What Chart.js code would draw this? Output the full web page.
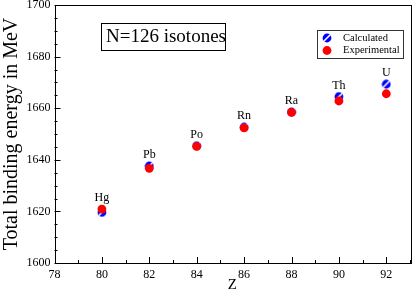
<!DOCTYPE html>
<html>
<head>
<meta charset="utf-8">
<script src="https://cdn.jsdelivr.net/npm/chart.js@4.4.1/dist/chart.umd.min.js"></script>
<style>
    html, body { margin: 0; padding: 0; background: #fff; }
    #wrap { width: 415px; height: 291px; }
</style>
</head>
<body>
<div id="wrap"><canvas id="chart"></canvas></div>
<script>
// data
const elements = ['Hg', 'Pb', 'Po', 'Rn', 'Ra', 'Th', 'U'];
const protonNumbers = [80, 82, 84, 86, 88, 90, 92];
const calculated = [1619.6, 1637.6, 1645.4, 1652.6, 1658.5, 1664.5, 1669.3];
const experimental = [1620.9, 1636.7, 1645.2, 1652.4, 1658.4, 1662.8, 1665.6];
const xTicks = [78, 80, 82, 84, 86, 88, 90, 92];
const yTicks = [1600, 1620, 1640, 1660, 1680, 1700];

const SERIF = '"Liberation Serif", "DejaVu Serif", serif';

// blue circle with a white diagonal stripe (hatched marker)
function makeHatchedDot() {
    const c = document.createElement('canvas');
    c.width = 10;
    c.height = 10;
    const g = c.getContext('2d');
    g.fillStyle = '#0000ff';
    g.beginPath();
    g.arc(5, 5, 4.4, 0, Math.PI * 2);
    g.fill();
    g.save();
    g.clip();
    g.strokeStyle = '#ffffff';
    g.lineWidth = 1.6;
    g.beginPath();
    g.moveTo(1.5, 8.5);
    g.lineTo(8.5, 1.5);
    g.stroke();
    g.restore();
    return c;
}
const hatchedDot = makeHatchedDot();

// frame, inward ticks, element labels, text box and legend
const decorPlugin = {
    id: 'decor',
    afterDatasetsDraw(chart) {
        const { ctx, chartArea: a, scales } = chart;
        const xs = scales.x, ys = scales.y;
        ctx.save();
        ctx.strokeStyle = '#000';
        ctx.lineWidth = 1;
        ctx.strokeRect(Math.round(a.left) + 0.5, Math.round(a.top) + 0.5,
            Math.round(a.right - a.left), Math.round(a.bottom - a.top));

        // x ticks (major every 2, minor every 1)
        ctx.beginPath();
        for (let v = xs.min; v <= xs.max; v += 1) {
            const px = Math.round(xs.getPixelForValue(v)) + 0.5;
            const len = (v % 2 === 0) ? 6 : 3;
            ctx.moveTo(px, a.bottom);
            ctx.lineTo(px, a.bottom - len);
        }
        // y ticks (major every 20, minor every 5)
        for (let v = ys.min; v <= ys.max; v += 5) {
            const py = Math.round(ys.getPixelForValue(v)) + 0.5;
            const len = (v % 20 === 0) ? 6 : 3;
            ctx.moveTo(a.left, py);
            ctx.lineTo(a.left + len, py);
        }
        ctx.stroke();

        // element symbols above each pair of points
        ctx.fillStyle = '#000';
        ctx.font = '12px ' + SERIF;
        ctx.textAlign = 'center';
        ctx.textBaseline = 'alphabetic';
        elements.forEach((el, i) => {
            const px = xs.getPixelForValue(protonNumbers[i]);
            const top = ys.getPixelForValue(Math.max(calculated[i], experimental[i]));
            ctx.fillText(el, px, top - 8);
        });

        // "N=126 isotones" box
        ctx.strokeRect(101.5, 23.5, 124, 27);
        ctx.font = '19px ' + SERIF;
        ctx.textAlign = 'left';
        ctx.textBaseline = 'middle';
        ctx.fillText('N=126 isotones', 106, 37.5);

        // legend
        ctx.strokeStyle = '#333';
        ctx.strokeRect(317.5, 30.5, 86, 28);
        ctx.drawImage(hatchedDot, 322, 33);
        ctx.fillStyle = '#ff0000';
        ctx.beginPath();
        ctx.arc(327, 50.5, 4.4, 0, Math.PI * 2);
        ctx.fill();
        ctx.fillStyle = '#000';
        ctx.font = '10.5px ' + SERIF;
        ctx.fillText('Calculated', 343, 38.5);
        ctx.fillText('Experimental', 343, 50.5);
        ctx.restore();
    }
};

new Chart(document.getElementById('chart'), {
    type: 'scatter',
    data: {
        datasets: [
            {
                label: 'Calculated',
                data: protonNumbers.map((z, i) => ({ x: z, y: calculated[i] })),
                pointStyle: hatchedDot,
                order: 1
            },
            {
                label: 'Experimental',
                data: protonNumbers.map((z, i) => ({ x: z, y: experimental[i] })),
                pointStyle: 'circle',
                pointRadius: 4.4,
                backgroundColor: '#ff0000',
                borderWidth: 0,
                order: 0
            }
        ]
    },
    options: {
        responsive: true,
        maintainAspectRatio: false,
        animation: false,
        layout: { padding: { top: 5, right: 2, left: 0, bottom: 0 } },
        plugins: {
            legend: { display: false },
            tooltip: { enabled: false }
        },
        scales: {
            x: {
                type: 'linear',
                min: 78,
                max: 93,
                afterBuildTicks: scale => { scale.ticks = xTicks.map(v => ({ value: v })); },
                afterFit: scale => {
                    scale.height = 28;
                    scale.paddingLeft = 0;
                    scale.paddingRight = 0;
                },
                grid: { display: false, drawTicks: false },
                border: { display: false },
                ticks: {
                    padding: 5,
                    color: '#000',
                    font: { family: SERIF, size: 12 },
                    callback: v => String(v)
                },
                title: {
                    display: true,
                    text: 'Z',
                    color: '#000',
                    padding: { top: -2, bottom: -2 },
                    font: { family: SERIF, size: 15, lineHeight: 1.0 }
                }
            },
            y: {
                min: 1600,
                max: 1700,
                afterBuildTicks: scale => { scale.ticks = yTicks.map(v => ({ value: v })); },
                afterFit: scale => {
                    scale.width = 54.5;
                    scale.paddingTop = 0;
                    scale.paddingBottom = 0;
                },
                grid: { display: false, drawTicks: false },
                border: { display: false },
                ticks: {
                    padding: 4,
                    color: '#000',
                    font: { family: SERIF, size: 12 },
                    callback: v => String(v)
                },
                title: {
                    display: true,
                    text: 'Total binding energy in MeV',
                    color: '#000',
                    padding: 0,
                    font: { family: SERIF, size: 20 }
                }
            }
        }
    },
    plugins: [decorPlugin]
});
</script>
</body>
</html>
